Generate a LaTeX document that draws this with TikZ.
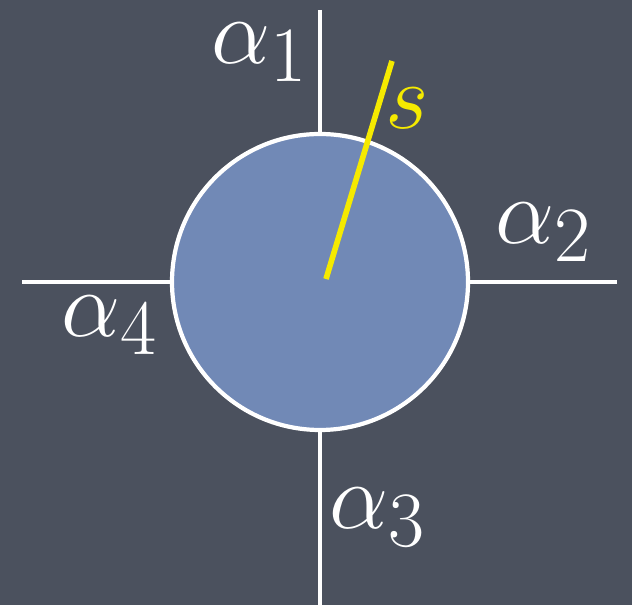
\documentclass[tikz,border=0pt]{standalone}
\usepackage{amsmath}
\usetikzlibrary{positioning}
\definecolor{slate}{HTML}{4B515E}
\definecolor{diskblue}{HTML}{7189B6}
\definecolor{signal}{HTML}{F5EA00}

\begin{document}
\begin{tikzpicture}[
  axis/.style={draw=white, line width=2.8pt},
  lbl/.style={text=white, font=\Huge, scale=2.15, inner sep=0pt}]
  \fill[slate] (0,0) rectangle (12.64,12.1);
  \useasboundingbox (0,0) rectangle (12.64,12.1);
  \coordinate (top) at (6.4,11.9);
  \coordinate (bottom) at (6.4,0);
  \coordinate (left) at (0.44,6.46);
  \coordinate (right) at (12.34,6.46);
  \coordinate (tip) at (7.84,10.88);
  \coordinate (foot) at (6.52,6.52);
  \draw[axis] (top) -- (6.4,6.46);
  \draw[axis] (bottom) -- (6.4,6.46);
  \draw[axis] (left) -- (6.4,6.46);
  \draw[axis] (right) -- (6.4,6.46);
  \node[circle, draw=white, line width=2.4pt, fill=diskblue,
    minimum size=5.92cm] (disk) at (6.4,6.46) {};
  \draw[signal, line width=3.2pt] (foot) -- (tip);
  % labels
  \node[lbl] (a1) at (5.2,11.06) {$\alpha_1$};
  \node[lbl] (a2) at (10.88,7.46) {$\alpha_2$};
  \node[lbl] (a3) at (7.56,1.76) {$\alpha_3$};
  \node[lbl] (a4) at (2.2,5.6) {$\alpha_4$};
  \node[lbl, text=signal] (s) at (8.14,9.94) {$s$};
\end{tikzpicture}
\end{document}
